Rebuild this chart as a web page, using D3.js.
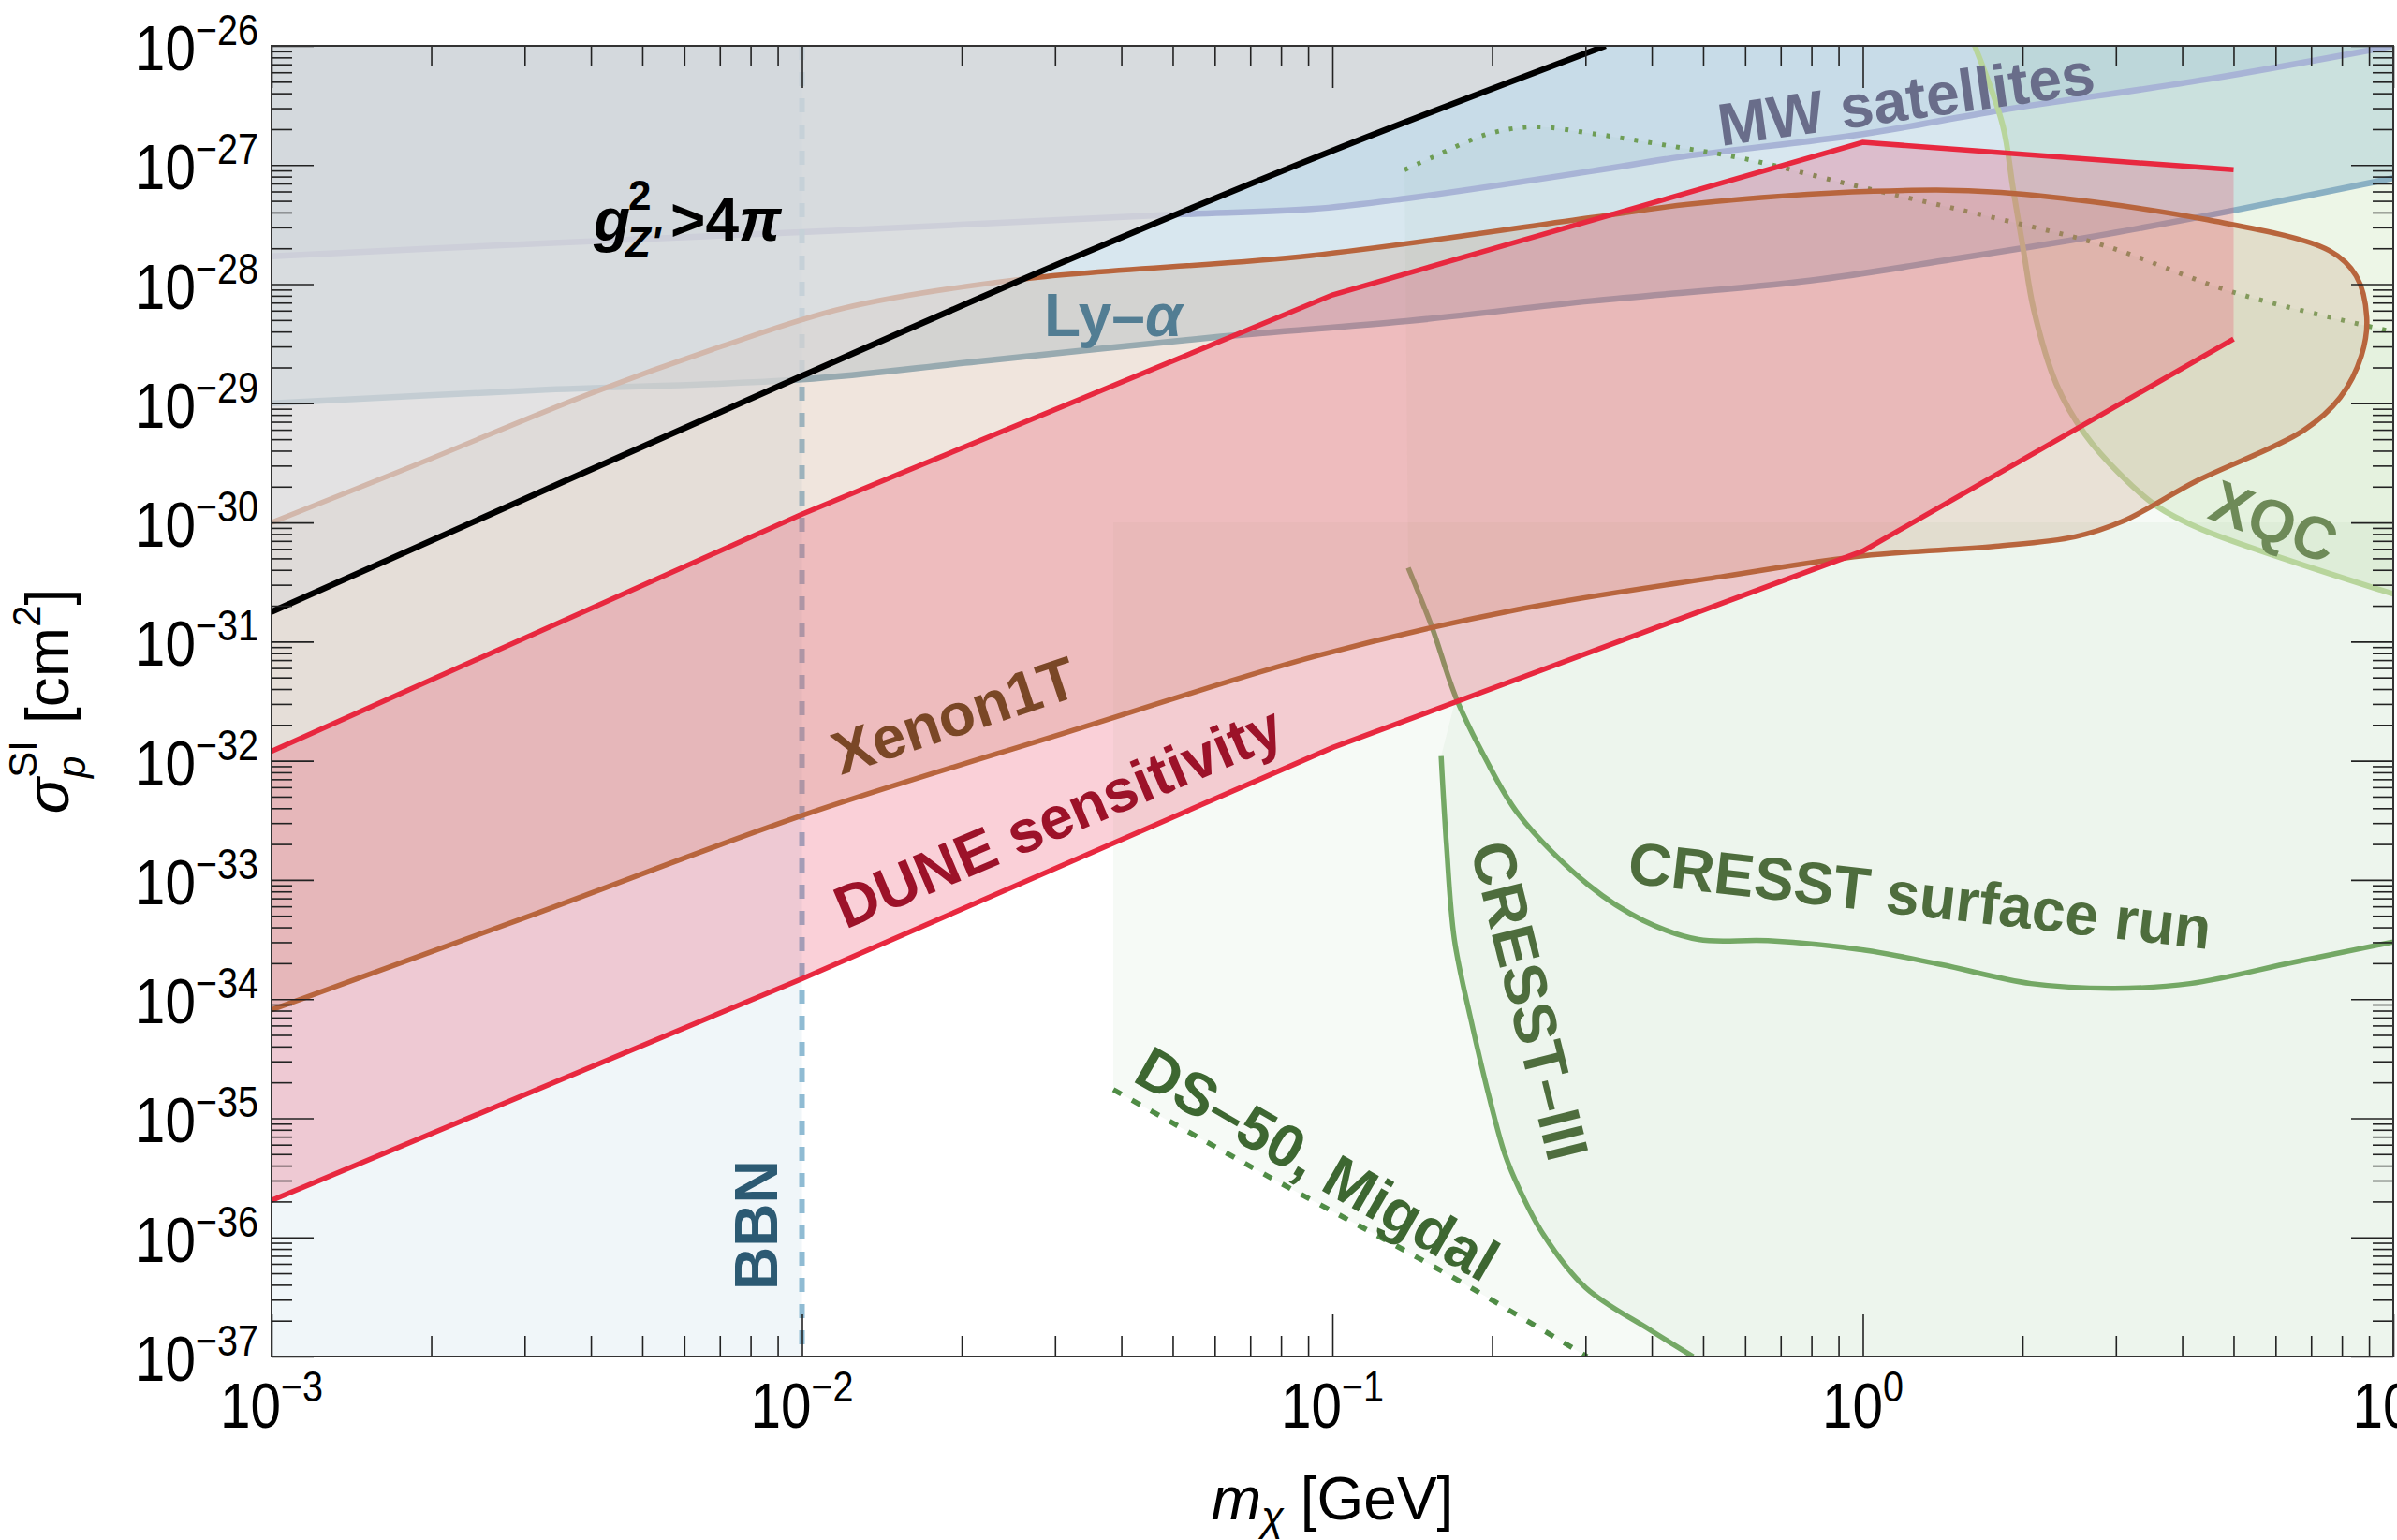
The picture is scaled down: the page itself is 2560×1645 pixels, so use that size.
<!DOCTYPE html>
<html><head><meta charset="utf-8">
<script src="https://cdn.jsdelivr.net/npm/d3@7"></script>
<style>
html,body{margin:0;padding:0;background:#fff;}
svg{display:block;font-family:"Liberation Sans",Arial,sans-serif;}
</style>
</head><body>
<svg id="chart" width="2560" height="1645"></svg>
<script>
// ---------- data (pairs are [log10(m / GeV), log10(sigma / cm^2)]) ----------
const massDomain = [1e-3, 10];
const sigmaDomain = [1e-37, 1e-26];
const massTickExps = [-3, -2, -1, 0, 1];
const sigmaTickExps = [-26, -27, -28, -29, -30, -31, -32, -33, -34, -35, -36, -37];

const couplingLimit = [[-3,-30.75],[-2,-28.77],[-1.5,-27.8],[-1,-26.88],[-0.485,-26.0]];
const bbnMass = 1e-2;
const lyAlpha = [[-3,-29.0],[-2.5,-28.89],[-2,-28.80],[-1.67,-28.65],[-1.21,-28.44],[-0.86,-28.31],[-0.51,-28.14],[-0.1,-27.97],[0.17,-27.79],[0.46,-27.58],[0.7,-27.38],[1.0,-27.11]];
const mwSatellites = [[-3,-27.765],[-2.5,-27.66],[-1.93,-27.55],[-1.32,-27.42],[-1.04,-27.37],[-0.86,-27.28],[-0.51,-27.05],[-0.34,-26.93],[0,-26.74],[0.26,-26.54],[0.65,-26.28],[1.0,-26.0]];
const xenon1T = [[-3,-34.09],[-2.5,-33.28],[-2,-32.46],[-1.5,-31.76],[-1.03,-31.12],[-0.65,-30.73],[-0.26,-30.45],[0.0,-30.28],[0.25,-30.2],[0.4,-30.12],[0.49,-29.99],[0.63,-29.65],[0.83,-29.23],[0.90,-28.95],[0.94,-28.60],[0.95,-28.28],[0.93,-27.93],[0.88,-27.72],[0.65,-27.46],[0.26,-27.23],[0.02,-27.22],[-0.33,-27.33],[-0.51,-27.44],[-1.04,-27.76],[-1.59,-27.96],[-1.92,-28.2],[-2.15,-28.52],[-2.4,-28.92],[-2.73,-29.52],[-3,-30.0]];
const duneUpper = [[-3,-31.92],[-2,-29.93],[-1,-28.09],[0,-26.81],[0.699,-27.04]];
const duneLower = [[-3,-35.69],[-2,-33.83],[-1,-31.89],[0,-30.24],[0.699,-28.46]];
const xqc = [[0.211,-26.0],[0.264,-26.67],[0.283,-27.19],[0.303,-27.72],[0.322,-28.21],[0.365,-28.84],[0.419,-29.26],[0.486,-29.6],[0.553,-29.86],[0.64,-30.06],[1.0,-30.6]];
const cresstSurfaceUpper = [[-0.864,-27.04],[-0.809,-26.93],[-0.707,-26.74],[-0.62,-26.68],[-0.504,-26.74],[-0.363,-26.84],[-0.22,-26.95],[-0.027,-27.16],[0.264,-27.46],[0.458,-27.68],[0.70,-28.07],[1.0,-28.40]];
const cresstSurfaceLower = [[-0.857,-30.38],[-0.813,-30.87],[-0.767,-31.47],[-0.714,-31.96],[-0.649,-32.45],[-0.518,-33.04],[-0.414,-33.34],[-0.31,-33.50],[-0.179,-33.51],[0.004,-33.59],[0.147,-33.71],[0.317,-33.87],[0.474,-33.91],[0.617,-33.87],[0.813,-33.69],[1.0,-33.52]];
const cresst3 = [[-0.795,-31.96],[-0.785,-32.7],[-0.77,-33.5],[-0.74,-34.15],[-0.70,-34.9],[-0.675,-35.3],[-0.647,-35.6],[-0.603,-35.97],[-0.523,-36.42],[-0.40,-36.78],[-0.32,-37.0]];
const ds50Migdal = [[-1.413,-34.76],[-1.12,-35.49],[-0.783,-36.31],[-0.52,-37.0]];

// ---------- setup ----------
const L = 290, R = 2556, T = 49, B = 1449;
const x = d3.scaleLog().domain(massDomain).range([L, R]);
const y = d3.scaleLog().domain(sigmaDomain).range([B, T]);
const px = d => x(Math.pow(10, d[0]));
const py = d => y(Math.pow(10, d[1]));
const smooth = d3.line().x(px).y(py).curve(d3.curveCatmullRom.alpha(0.5));
const straight = d3.line().x(px).y(py).curve(d3.curveLinear);
const P = (lx, ly) => `${px([lx,ly])},${py([lx,ly])}`;
const cont = s => s.replace(/^M/, "L");

const svg = d3.select("#chart");
svg.append("defs").append("clipPath").attr("id", "plot")
  .append("rect").attr("x", L).attr("y", T).attr("width", R - L).attr("height", B - T);
const g = svg.append("g").attr("clip-path", "url(#plot)");

// ---------- background fills ----------
g.append("rect").attr("x", x(1e-3)).attr("y", T).attr("width", x(bbnMass) - x(1e-3)).attr("height", B - T)
  .attr("fill", "#f0f6f9");

// DS-50 Migdal region
g.append("path").attr("d", smooth(ds50Migdal) + `L${P(1,-37)}L${P(1,-30)}L${P(-1.413,-30)}Z`)
  .attr("fill", "rgba(110,165,95,0.06)");
// CRESST-III region (closed on top by the CRESST surface curve)
const c3Top = cresstSurfaceLower.filter(d => d[0] > -0.79).reverse();
g.append("path").attr("d", smooth(cresst3) + `L${P(1,-37)}` + cont(smooth(c3Top)) + "Z")
  .attr("fill", "rgba(110,165,95,0.06)");
// CRESST surface region
g.append("path").attr("d", smooth(cresstSurfaceUpper) + cont(smooth(cresstSurfaceLower.slice().reverse())) + "Z")
  .attr("fill", "rgba(110,165,95,0.06)");
// XQC region
g.append("path").attr("d", smooth(xqc) + `L${P(1,-26)}Z`)
  .attr("fill", "rgba(150,200,110,0.17)");
// Ly-alpha region
g.append("path").attr("d", smooth(lyAlpha) + `L${P(1,-26)}L${P(-3,-26)}Z`)
  .attr("fill", "rgba(125,175,202,0.30)");
// MW satellites region
g.append("path").attr("d", smooth(mwSatellites) + `L${P(-3,-26)}Z`)
  .attr("fill", "rgba(116,158,192,0.15)");

// ---------- lines beneath the Xenon/DUNE fills ----------
g.append("path").attr("d", smooth(lyAlpha)).attr("fill", "none").attr("stroke", "#8ab0c3").attr("stroke-width", 6.5);
g.append("path").attr("d", smooth(mwSatellites)).attr("fill", "none").attr("stroke", "#a8b4d6").attr("stroke-width", 6.5);
g.append("path").attr("d", smooth(xqc)).attr("fill", "none").attr("stroke", "#b8d59c").attr("stroke-width", 6);
g.append("path").attr("d", smooth(cresstSurfaceLower)).attr("fill", "none").attr("stroke", "#74a865").attr("stroke-width", 5.5);
g.append("path").attr("d", smooth(cresstSurfaceUpper)).attr("fill", "none").attr("stroke", "#6e9d55").attr("stroke-width", 5).attr("stroke-dasharray", "4,11");
g.append("path").attr("d", smooth(cresst3)).attr("fill", "none").attr("stroke", "#74a865").attr("stroke-width", 5.5);
g.append("path").attr("d", smooth(ds50Migdal)).attr("fill", "none").attr("stroke", "#4f8c45").attr("stroke-width", 5.5).attr("stroke-dasharray", "10,13");
g.append("line").attr("x1", x(bbnMass)).attr("x2", x(bbnMass)).attr("y1", T).attr("y2", B)
  .attr("stroke", "#8fbbd3").attr("stroke-width", 6).attr("stroke-dasharray", "15,13");

// ---------- Xenon1T & DUNE ----------
g.append("path").attr("d", smooth(xenon1T) + "Z").attr("fill", "rgba(195,150,120,0.25)");
g.append("path").attr("d", straight(duneUpper) + cont(straight(duneLower.slice().reverse())) + "Z")
  .attr("fill", "rgba(236,60,90,0.24)");
g.append("path").attr("d", smooth(xenon1T)).attr("fill", "none").attr("stroke", "#b8653d").attr("stroke-width", 5.5);
g.append("path").attr("d", straight(duneUpper)).attr("fill", "none").attr("stroke", "#e8283f").attr("stroke-width", 5.5);
g.append("path").attr("d", straight(duneLower)).attr("fill", "none").attr("stroke", "#e8283f").attr("stroke-width", 5.5);

// ---------- perturbativity region ----------
g.append("path").attr("d", smooth(couplingLimit) + `L${P(-3,-26)}Z`).attr("fill", "rgba(221,218,218,0.7)");
g.append("path").attr("d", smooth(couplingLimit)).attr("fill", "none").attr("stroke", "#000").attr("stroke-width", 6.5);

// ---------- axes ----------
const isMajor = v => Math.abs(Math.log10(v) - Math.round(Math.log10(v))) < 1e-6;
const xAll = x.ticks(20), yAll = y.ticks(20);
const xMaj = xAll.filter(isMajor), xMin = xAll.filter(v => !isMajor(v));
const yMaj = yAll.filter(isMajor), yMin = yAll.filter(v => !isMajor(v));
function tickAxis(axisFn, scale, vals, size, tr) {
  const a = svg.append("g").attr("transform", tr)
    .call(axisFn(scale).tickValues(vals).tickSize(size).tickSizeOuter(0).tickFormat(""));
  a.select(".domain").remove();
  a.selectAll("line").attr("stroke", "#222").attr("stroke-width", 1.6);
}
tickAxis(d3.axisRight, y, yMaj, 45, `translate(${L},0)`);
tickAxis(d3.axisRight, y, yMin, 22, `translate(${L},0)`);
tickAxis(d3.axisLeft, y, yMaj, 45, `translate(${R},0)`);
tickAxis(d3.axisLeft, y, yMin, 22, `translate(${R},0)`);
tickAxis(d3.axisBottom, x, xMaj, 45, `translate(0,${T})`);
tickAxis(d3.axisBottom, x, xMin, 22, `translate(0,${T})`);
tickAxis(d3.axisTop, x, xMaj, 45, `translate(0,${B})`);
tickAxis(d3.axisTop, x, xMin, 22, `translate(0,${B})`);
svg.append("rect").attr("x", L).attr("y", T).attr("width", R - L).attr("height", B - T)
  .attr("fill", "none").attr("stroke", "#333").attr("stroke-width", 2);

// tick labels (slightly condensed, as in the original)
const sup = e => (e < 0 ? "\u2212" + Math.abs(e) : String(e));
sigmaTickExps.forEach(e => {
  const t = svg.append("text")
    .attr("transform", `translate(276,${y(Math.pow(10, e)) + 26}) scale(0.86,1)`)
    .attr("text-anchor", "end").attr("font-size", 68).attr("fill", "#000");
  t.append("tspan").text("10");
  t.append("tspan").attr("font-size", 46).attr("dy", -27).text(sup(e));
});
massTickExps.forEach(e => {
  const t = svg.append("text")
    .attr("transform", `translate(${x(Math.pow(10, e))},1525) scale(0.86,1)`)
    .attr("text-anchor", "middle").attr("font-size", 68).attr("fill", "#000");
  t.append("tspan").text("10");
  t.append("tspan").attr("font-size", 46).attr("dy", -28).text(sup(e));
});

// axis titles
const xt = svg.append("text").attr("x", (L + R) / 2).attr("y", 1623).attr("text-anchor", "middle")
  .attr("font-size", 64).attr("fill", "#000");
xt.append("tspan").attr("font-style", "italic").text("m");
xt.append("tspan").attr("font-style", "italic").attr("font-size", 44).attr("dy", 12).text("\u03c7");
xt.append("tspan").attr("dy", -12).text(" [GeV]");

const yt = svg.append("text").attr("transform", `translate(73,${(T + B) / 2}) rotate(-90)`)
  .attr("text-anchor", "middle").attr("font-size", 64).attr("fill", "#000");
yt.append("tspan").attr("font-style", "italic").text("\u03c3");
yt.append("tspan").attr("font-size", 42).attr("dy", -34).text("SI");
yt.append("tspan").attr("font-size", 42).attr("font-style", "italic").attr("dx", -40).attr("dy", 52).text("p");
yt.append("tspan").attr("dx", 17).attr("dy", -18).text(" [cm");
yt.append("tspan").attr("font-size", 42).attr("dy", -30).text("2");
yt.append("tspan").attr("dy", 30).text("]");

// ---------- region labels ----------
function label(txt, xp, yp, rot, color, extra) {
  const t = svg.append("text").attr("transform", `translate(${xp},${yp}) rotate(${rot})`)
    .attr("font-size", 64).attr("font-weight", "bold").attr("fill", color);
  if (extra) extra(t); else t.text(txt);
  return t;
}
// g_Z'^2 > 4 pi
svg.append("text").attr("x", 634).attr("y", 257).attr("font-size", 64).attr("font-weight", "bold")
  .attr("font-style", "italic").text("g");
svg.append("text").attr("x", 671).attr("y", 224).attr("font-size", 44).attr("font-weight", "bold").text("2");
svg.append("text").attr("x", 668).attr("y", 274).attr("font-size", 44).attr("font-weight", "bold")
  .attr("font-style", "italic").text("Z'");
const gt = svg.append("text").attr("x", 716).attr("y", 257).attr("font-size", 64).attr("font-weight", "bold");
gt.append("tspan").text(">4");
gt.append("tspan").attr("font-style", "italic").text("\u03c0");

label(null, 1115, 359, 0, "#527d93", t => {
  t.append("tspan").text("Ly\u2013");
  t.append("tspan").attr("font-style", "italic").text("\u03b1");
});
label("MW satellites", 1838, 156, -8, "#696d8a");
label("XQC", 2356, 553, 21, "#6e8a58");
label("Xenon1T", 898, 828, -18.5, "#7a4726");
label("DUNE sensitivity", 903, 993, -23, "#9c1229");
label("CRESST surface run", 1737, 943, 6.5, "#4e6d3d");
label("CRESST\u2013III", 1570, 905, 76, "#4e6d3d");
label("DS\u201350, Migdal", 1208, 1154, 30, "#3d6731");
label("BBN", 830, 1378, -90, "#2c5a73");
</script>
</body></html>
